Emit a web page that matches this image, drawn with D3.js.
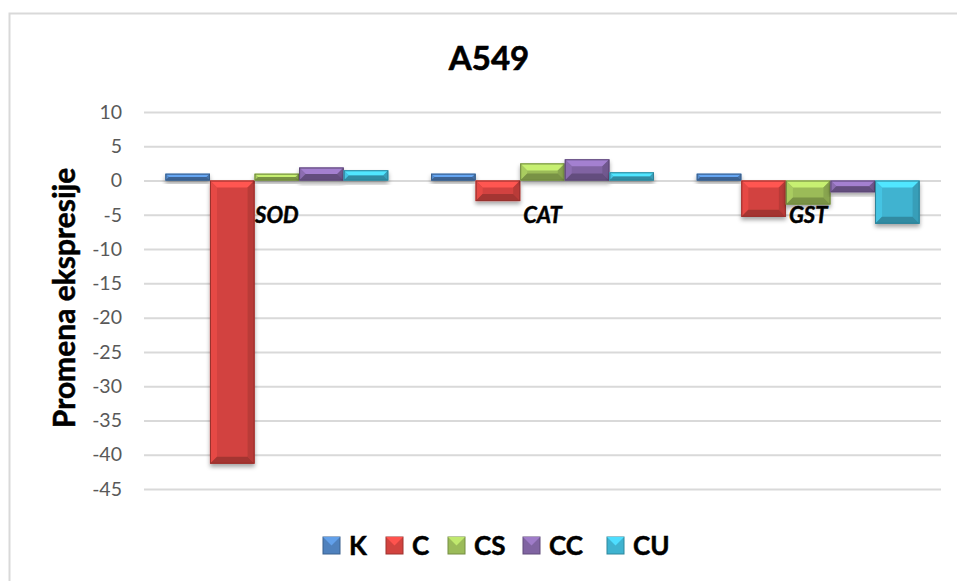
<!DOCTYPE html>
<html>
<head>
<meta charset="utf-8">
<script src="https://cdn.jsdelivr.net/npm/d3@7"></script>
<style>
  html, body { margin: 0; padding: 0; background: #fff; }
  svg { display: block; font-family: Lato, "Open Sans", "Liberation Sans", sans-serif; }
</style>
</head>
<body>
<svg id="chart" width="957" height="581"></svg>
<script>
// Gene categories and treatment series
const categories = ["SOD", "CAT", "GST"];
const series = ["K", "C", "CS", "CC", "CU"];
const seriesColors = ["#4F81BD", "#D2433F", "#9BBB59", "#8064A2", "#3FB3D0"];

// Expression change per series, one value per category (SOD, CAT, GST)
const valuesK  = [1.0, 1.0, 1.0];
const valuesC  = [-41.3, -3.0, -5.3];
const valuesCS = [1.0, 2.5, -3.5];
const valuesCC = [1.9, 3.1, -1.7];
const valuesCU = [1.5, 1.2, -6.3];
const seriesValues = [valuesK, valuesC, valuesCS, valuesCC, valuesCU];

const yTicks = [10, 5, 0, -5, -10, -15, -20, -25, -30, -35, -40, -45];

const titleText = "A549";
const yLabel = "Promena ekspresije";

const svg = d3.select("#chart");

// Chart area frame
svg.append("rect")
  .attr("x", 9.5).attr("y", 13.5)
  .attr("width", 960).attr("height", 600)
  .attr("fill", "#fff").attr("stroke", "#d9d9d9").attr("stroke-width", 2);

const plot = { left: 144, right: 941, top: 112, bottom: 489 };

const y = d3.scaleLinear().domain([-45, 10]).range([plot.bottom, plot.top]);
const x0 = d3.scaleBand().domain(categories).range([plot.left, plot.right]).padding(0);
const x1 = d3.scaleBand().domain(series).range([0, x0.bandwidth()])
  .paddingInner(0).paddingOuter(0.48);

const defs = svg.append("defs");
const shadow = defs.append("filter").attr("id", "shadow")
  .attr("x", "-20%").attr("y", "-20%").attr("width", "140%").attr("height", "160%");
shadow.append("feDropShadow")
  .attr("dx", 0).attr("dy", 3).attr("stdDeviation", 2.2)
  .attr("flood-color", "#000").attr("flood-opacity", 0.35);

// Gridlines + tick labels
const yAxis = d3.axisLeft(y).tickValues(yTicks).tickSize(-(plot.right - plot.left)).tickPadding(22);
const gAxis = svg.append("g").attr("transform", `translate(${plot.left},0)`).call(yAxis);
gAxis.select(".domain").remove();
gAxis.selectAll(".tick line").attr("stroke", "#d9d9d9").attr("stroke-width", 2);
gAxis.selectAll(".tick text")
  .attr("fill", "#595959").attr("font-size", 19.5)
  .attr("font-family", "Lato, 'Open Sans', sans-serif")
  .text(d => d);

// Bevelled bar: base rect plus four edge facets
function bevelBar(g, bx, by, bw, bh, color) {
  const c = d3.color(color);
  const b = Math.max(0, Math.min(7, bh / 2, bw / 2));
  const grp = g.append("g").attr("filter", "url(#shadow)");
  grp.append("rect").attr("x", bx).attr("y", by).attr("width", bw).attr("height", bh)
    .attr("fill", c.formatHex());
  const facets = [
    { pts: [[bx, by], [bx + bw, by], [bx + bw - b, by + b], [bx + b, by + b]], col: c.brighter(0.7) },
    { pts: [[bx, by], [bx + b, by + b], [bx + b, by + bh - b], [bx, by + bh]], col: c.brighter(0.25) },
    { pts: [[bx + bw, by], [bx + bw, by + bh], [bx + bw - b, by + bh - b], [bx + bw - b, by + b]], col: c.darker(0.35) },
    { pts: [[bx, by + bh], [bx + b, by + bh - b], [bx + bw - b, by + bh - b], [bx + bw, by + bh]], col: c.darker(0.7) }
  ];
  facets.forEach(f => {
    grp.append("polygon").attr("points", f.pts.map(p => p.join(",")).join(" "))
      .attr("fill", d3.color(f.col).formatHex());
  });
  grp.append("rect").attr("x", bx + 0.5).attr("y", by + 0.5)
    .attr("width", Math.max(0, bw - 1)).attr("height", Math.max(0, bh - 1))
    .attr("fill", "none").attr("stroke", c.darker(0.9).formatHex()).attr("stroke-width", 1);
}

const barsG = svg.append("g");
categories.forEach((cat, ci) => {
  series.forEach((s, si) => {
    const v = seriesValues[si][ci];
    const bx = x0(cat) + x1(s);
    const top = y(Math.max(0, v));
    const bottom = y(Math.min(0, v));
    bevelBar(barsG, bx, top, x1.bandwidth(), bottom - top, seriesColors[si]);
  });
});

// Category labels next to the zero line
svg.append("g").selectAll("text").data(categories).join("text")
  .attr("x", d => x0(d) + x0.bandwidth() / 2)
  .attr("y", y(0) + 42)
  .attr("text-anchor", "middle")
  .attr("font-size", 22).attr("font-weight", "bold").attr("font-style", "italic")
  .attr("fill", "#000").attr("stroke", "#000").attr("stroke-width", 0.5)
  .text(d => d);

// Title
svg.append("text").attr("x", 489).attr("y", 70)
  .attr("text-anchor", "middle").attr("font-size", 33).attr("font-weight", "bold")
  .attr("fill", "#000").attr("stroke", "#000").attr("stroke-width", 0.6)
  .text(titleText);

// Y axis label
svg.append("text")
  .attr("transform", `translate(75,298) rotate(-90)`)
  .attr("text-anchor", "middle").attr("font-size", 30).attr("font-weight", "bold")
  .attr("fill", "#000").attr("stroke", "#000").attr("stroke-width", 0.5)
  .text(yLabel);

// Legend
const legendX = [323, 386, 448, 523, 607];
const legend = svg.append("g");
series.forEach((s, i) => {
  const lx = legendX[i], ly = 537;
  const c = d3.color(seriesColors[i]);
  const sz = 17;
  legend.append("rect").attr("x", lx).attr("y", ly).attr("width", sz).attr("height", sz)
    .attr("fill", c.formatHex()).attr("stroke", c.darker(0.8).formatHex()).attr("stroke-width", 1);
  legend.append("polygon")
    .attr("points", [[lx, ly], [lx + sz, ly], [lx + sz / 2, ly + sz / 2]].map(p => p.join(",")).join(" "))
    .attr("fill", c.brighter(0.6).formatHex());
  legend.append("text").attr("x", lx + 26).attr("y", ly + 18)
    .attr("font-size", 26).attr("font-weight", "bold")
    .attr("fill", "#000").attr("stroke", "#000").attr("stroke-width", 0.5)
    .text(s);
});
</script>
</body>
</html>
